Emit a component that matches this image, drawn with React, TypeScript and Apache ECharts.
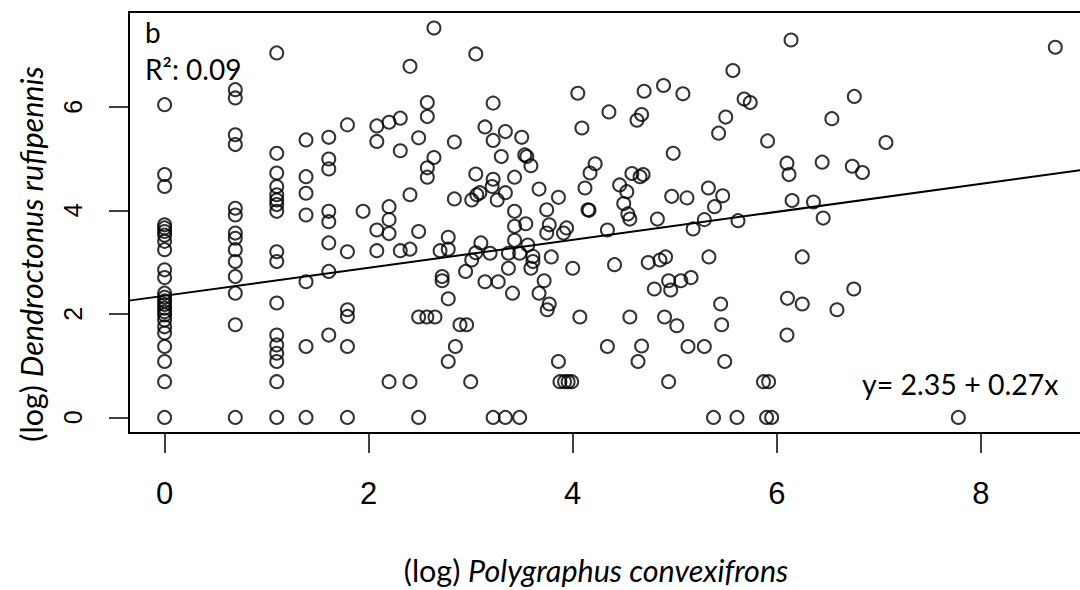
import React, { useEffect, useRef } from "react";
import * as echarts from "echarts";

// Axis ticks
const xTicks = [0, 2, 4, 6, 8];
const yTicks = [0, 2, 4, 6];
const X_MIN = -0.349;
const X_MAX = 9.08;
const Y_MIN = -0.301;
const Y_MAX = 7.83;

// Regression
const intercept = 2.35;
const slope = 0.27;

// Vertical stacks of points (x fixed)
const col0X = 0;
const col0Y = [6.04, 4.69, 4.46, 3.72, 3.66, 3.59, 3.52, 3.4, 3.24, 2.85, 2.7, 2.4, 2.32, 2.25, 2.18, 2.11, 2.04, 1.98, 1.88, 1.75, 1.63, 1.37, 1.08, 0.69, 0];
const col1X = 0.693;
const col1Y = [6.33, 6.17, 5.46, 5.27, 4.04, 3.91, 3.56, 3.46, 3.24, 3.01, 2.72, 2.4, 1.79, 0];
const col2X = 1.099;
const col2Y = [7.04, 5.1, 4.72, 4.46, 4.3, 4.2, 4.11, 3.98, 3.2, 3.01, 2.21, 1.59, 1.4, 1.24, 1.08, 0.69, 0];
const col3X = 1.386;
const col3Y = [5.36, 4.65, 4.33, 3.91, 2.62, 1.37, 0];
const col4X = 1.609;
const col4Y = [5.41, 4.99, 4.8, 3.98, 3.78, 3.37, 2.82, 1.59];
const col5X = 1.792;
const col5Y = [5.65, 3.2, 2.08, 1.95, 1.37, 0];

// Remaining scattered points [x, y]
const scatterPts: [number, number][] = [
  [1.945, 3.98],
  [2.64, 7.52], [3.05, 7.02], [2.405, 6.78], [2.575, 6.08], [2.575, 5.81], [2.08, 5.63], [2.2, 5.7], [2.31, 5.78],
  [2.08, 5.33], [2.31, 5.15], [2.49, 5.4], [2.64, 5.02], [2.575, 4.82], [2.575, 4.64], [2.84, 5.32], [3.22, 6.07],
  [3.14, 5.61], [3.34, 5.52], [3.22, 5.35], [3.5, 5.41], [3.3, 5.04], [3.53, 5.07], [3.55, 5.04], [3.59, 4.86],
  [4.05, 6.26], [4.09, 5.59], [3.05, 4.7], [3.22, 4.6], [3.43, 4.64], [3.21, 4.46], [3.09, 4.34], [3.06, 4.3],
  [3.01, 4.2], [3.34, 4.34], [3.26, 4.2], [2.84, 4.22], [2.405, 4.3], [2.2, 4.07], [2.2, 3.82], [3.67, 4.41],
  [3.86, 4.25], [3.745, 4.01], [3.43, 3.98], [4.12, 4.43], [4.17, 4.72], [4.22, 4.9], [4.15, 4.01], [4.16, 4.0],
  [2.08, 3.62], [2.2, 3.55], [2.49, 3.59], [2.08, 3.22], [2.31, 3.22], [2.405, 3.25], [2.78, 3.48], [2.7, 3.22],
  [2.78, 3.25], [2.72, 2.72], [2.72, 2.64], [2.78, 2.29], [2.49, 1.94], [2.57, 1.94], [2.65, 1.94], [2.895, 1.79],
  [2.96, 1.79], [2.85, 1.37], [2.78, 1.08], [2.2, 0.69], [2.405, 0.69], [3.0, 0.69], [2.49, 0], [3.22, 0],
  [3.34, 0], [3.48, 0], [3.86, 1.08], [3.875, 0.69], [3.92, 0.69], [3.955, 0.69], [3.99, 0.69], [4.07, 1.94],
  [3.1, 3.37], [3.05, 3.18], [3.01, 3.04], [2.95, 2.82], [3.19, 3.17], [3.37, 3.17], [3.48, 3.17], [3.43, 3.69],
  [3.54, 3.74], [3.43, 3.42], [3.56, 3.33], [3.61, 3.11], [3.61, 3.01], [3.59, 2.88], [3.37, 2.88], [3.79, 3.1],
  [4.0, 2.88], [3.14, 2.62], [3.27, 2.62], [3.41, 2.4], [3.72, 2.64], [3.67, 2.4], [3.77, 2.19], [3.75, 2.08],
  [3.745, 3.56], [3.77, 3.72], [3.94, 3.66], [3.91, 3.56],
  [6.14, 7.29], [5.57, 6.7], [4.7, 6.3], [4.89, 6.41], [5.08, 6.25], [4.355, 5.9], [4.675, 5.85], [4.63, 5.74],
  [5.68, 6.15], [5.74, 6.08], [5.5, 5.8], [5.43, 5.49], [6.54, 5.77], [5.91, 5.34], [4.985, 5.1], [4.58, 4.71],
  [4.66, 4.65], [4.69, 4.69], [4.46, 4.49], [4.53, 4.36], [4.5, 4.13], [4.54, 3.93], [4.56, 3.83], [4.97, 4.27],
  [5.12, 4.24], [5.33, 4.43], [5.47, 4.28], [5.39, 4.07], [6.1, 4.91], [6.12, 4.69], [6.445, 4.93], [6.15, 4.19],
  [6.36, 4.16], [6.455, 3.85], [4.83, 3.83], [5.29, 3.82], [5.62, 3.8],
  [4.34, 3.62], [5.18, 3.64], [4.41, 2.95], [4.74, 2.99], [4.855, 3.04], [4.91, 3.1], [5.335, 3.1], [6.25, 3.1],
  [4.94, 2.64], [5.06, 2.64], [5.16, 2.7], [4.8, 2.48], [4.96, 2.46], [5.45, 2.19], [5.46, 1.79], [6.105, 2.3],
  [6.25, 2.19], [6.59, 2.08], [4.56, 1.94], [4.9, 1.94], [5.02, 1.77], [6.1, 1.59], [4.34, 1.37], [4.675, 1.38],
  [4.64, 1.08], [5.13, 1.37], [5.29, 1.37], [5.49, 1.08], [4.94, 0.69], [5.87, 0.69], [5.92, 0.69], [5.38, 0],
  [5.61, 0], [5.9, 0], [5.95, 0],
  [8.73, 7.15], [6.76, 6.2], [7.07, 5.31], [6.74, 4.85], [6.84, 4.73], [6.755, 2.48], [7.78, 0],
];

const TITLE_FONT = "Lato, 'Open Sans', sans-serif";
const TICK_FONT = "'Liberation Sans', Arial, sans-serif";
const AXIS_TITLE_SIZE = 30.5;
const xTitleParts = ["(log) ", "Polygraphus convexifrons"];
const yTitleParts = ["(log) ", "Dendroctonus rufipennis"];

function measure(text: string, font: string): number {
  const c = document.createElement("canvas").getContext("2d");
  if (!c) return text.length * 14;
  c.font = font;
  return c.measureText(text).width;
}

export default function App() {
  const ref = useRef<HTMLDivElement>(null);
  useEffect(() => {
    if (!ref.current) return;
    const chart = echarts.init(ref.current, undefined, { renderer: "svg" });
    const cols: [number, number[]][] = [
      [col0X, col0Y], [col1X, col1Y], [col2X, col2Y], [col3X, col3Y], [col4X, col4Y], [col5X, col5Y],
    ];
    const data: [number, number][] = [];
    cols.forEach(([x, ys]) => ys.forEach((y) => data.push([x, y])));
    scatterPts.forEach((p) => data.push(p));

    const normalFont = `${AXIS_TITLE_SIZE}px ${TITLE_FONT}`;
    const italicFont = `italic ${AXIS_TITLE_SIZE}px ${TITLE_FONT}`;
    const xw1 = measure(xTitleParts[0], normalFont);
    const xw2 = measure(xTitleParts[1], italicFont);
    const yw1 = measure(yTitleParts[0], normalFont);
    const yw2 = measure(yTitleParts[1], italicFont);
    const xCenter = 596;
    const xTitleY = 570;
    const xStart = xCenter - (xw1 + xw2) / 2;
    const yCenter = 254;
    const yTitleX = 31;
    const yStart = yCenter + (yw1 + yw2) / 2;

    chart.setOption({
      animation: false,
      backgroundColor: "#fff",
      grid: {
        left: 129,
        top: 12,
        width: 962,
        height: 421,
        show: true,
        borderColor: "#000",
        borderWidth: 2,
        backgroundColor: "transparent",
      },
      xAxis: {
        type: "value",
        min: X_MIN,
        max: X_MAX,
        splitLine: { show: false },
        axisLine: { show: false, onZero: false },
        axisTick: { show: true, inside: false, length: 20, lineStyle: { color: "#000", width: 1.5 }, customValues: xTicks },
        axisLabel: {
          customValues: xTicks,
          color: "#000",
          fontSize: 31,
          fontFamily: TICK_FONT,
          margin: 45,
        },
      },
      yAxis: {
        type: "value",
        min: Y_MIN,
        max: Y_MAX,
        splitLine: { show: false },
        axisLine: { show: false, onZero: false },
        axisTick: { show: true, inside: false, length: 20, lineStyle: { color: "#000", width: 1.5 }, customValues: yTicks },
        axisLabel: {
          customValues: yTicks,
          color: "#000",
          fontSize: 25,
          fontFamily: TICK_FONT,
          rotate: 90,
          margin: 44,
        },
      },
      series: [
        {
          type: "scatter",
          data,
          symbol: "circle",
          symbolSize: 13,
          itemStyle: { color: "rgba(0,0,0,0)", borderColor: "#000", borderWidth: 2 },
          silent: true,
        },
        {
          type: "line",
          data: [
            [X_MIN, intercept + slope * X_MIN],
            [X_MAX, intercept + slope * X_MAX],
          ],
          showSymbol: false,
          symbol: "none",
          lineStyle: { color: "#000", width: 2 },
          silent: true,
        },
      ],
      graphic: [
        {
          type: "text",
          x: 145,
          y: 32,
          style: { text: "b", font: `28px ${TITLE_FONT}`, fill: "#000", textAlign: "left", textVerticalAlign: "middle" },
        },
        {
          type: "text",
          x: 145,
          y: 69,
          style: { text: "R²: 0.09", font: `28px ${TITLE_FONT}`, fill: "#000", textAlign: "left", textVerticalAlign: "middle" },
        },
        {
          type: "text",
          x: 862,
          y: 384,
          style: { text: "y= 2.35 + 0.27x", font: `28.5px ${TITLE_FONT}`, fill: "#000", textAlign: "left", textVerticalAlign: "middle" },
        },
        {
          type: "text",
          x: xStart,
          y: xTitleY,
          style: { text: xTitleParts[0], font: normalFont, fill: "#000", textAlign: "left", textVerticalAlign: "middle" },
        },
        {
          type: "text",
          x: xStart + xw1,
          y: xTitleY,
          style: { text: xTitleParts[1], font: italicFont, fill: "#000", textAlign: "left", textVerticalAlign: "middle" },
        },
        {
          type: "text",
          x: yTitleX,
          y: yStart,
          rotation: Math.PI / 2,
          style: { text: yTitleParts[0], font: normalFont, fill: "#000", textAlign: "left", textVerticalAlign: "middle" },
        },
        {
          type: "text",
          x: yTitleX,
          y: yStart - yw1,
          rotation: Math.PI / 2,
          style: { text: yTitleParts[1], font: italicFont, fill: "#000", textAlign: "left", textVerticalAlign: "middle" },
        },
      ],
    });
    return () => chart.dispose();
  }, []);
  return (
    <div style={{ position: "fixed", left: 0, top: 0, width: 1080, height: 590, overflow: "hidden", background: "#fff" }}>
      <div ref={ref} style={{ width: 1100, height: 590 }} />
    </div>
  );
}
